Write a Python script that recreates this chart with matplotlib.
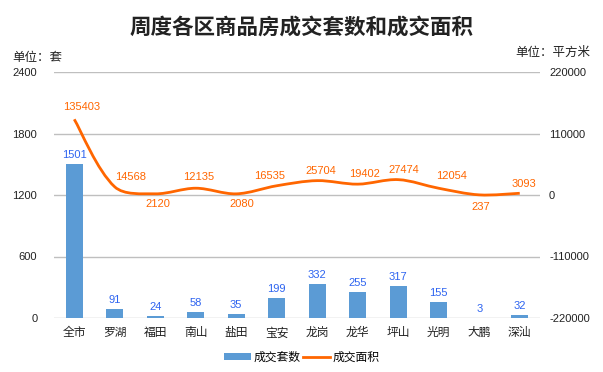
import matplotlib
matplotlib.use("Agg")
import matplotlib.pyplot as plt
from matplotlib.path import Path
from matplotlib.patches import PathPatch, Patch
from matplotlib.lines import Line2D
import numpy as np

plt.rcParams['font.family'] = ['Noto Sans CJK SC', 'DejaVu Sans']

categories = ["全市", "罗湖", "福田", "南山", "盐田", "宝安", "龙岗", "龙华", "坪山", "光明", "大鹏", "深汕"]
units = [1501, 91, 24, 58, 35, 199, 332, 255, 317, 155, 3, 32]
area = [135403, 14568, 2120, 12135, 2080, 16535, 25704, 19402, 27474, 12054, 237, 3093]
left_ticks = [0, 600, 1200, 1800, 2400]
right_ticks = [-220000, -110000, 0, 110000, 220000]

# label offsets (pixels) for line labels: (dx, dy); dy<0 means below the point
area_label_offsets = [(7, 7), (16, 5), (3, -5), (3, 6), (6, -5), (-7, 5),
                      (4, 5), (7, 5), (6, 5), (13, 7), (2, -7), (4, 4)]

bar_color = "#5B9BD5"
line_color = "#FF6600"
bar_label_color = "#2E64F0"
num_font = "Liberation Sans"

W, H = 603, 372
fig = plt.figure(figsize=(W/100, H/100), dpi=100)
ax_l, ax_r, ax_t, ax_b = 54, 540, 72, 318
ax = fig.add_axes([ax_l/W, 1-ax_b/H, (ax_r-ax_l)/W, (ax_b-ax_t)/H])
x = np.arange(len(categories))
ax.bar(x, units, width=0.42, color=bar_color, zorder=2)
ax.set_xlim(-0.5, len(categories)-0.5)
ax.set_ylim(0, 2400)
ax.set_yticks(left_ticks)
ax.set_yticklabels([str(t) for t in left_ticks], fontsize=8, color="#222222", family=num_font)
ax.set_xticks(x)
ax.set_xticklabels(categories, fontsize=8.5, color="#222222")
ax.tick_params(axis='y', length=0, pad=12)
ax.tick_params(axis='x', length=0, pad=6)
ax.grid(axis='y', color="#BFBFBF", linewidth=1, zorder=0)
for s in ax.spines.values():
    s.set_visible(False)
for xi, v in zip(x, units):
    ax.annotate(str(v), (xi, v), xytext=(0, 4), textcoords='offset pixels',
                ha='center', va='bottom', fontsize=8, color=bar_label_color, family=num_font)

ax2 = ax.twinx()
ax2.set_ylim(-220000, 220000)
ax2.set_yticks(right_ticks)
ax2.set_yticklabels([str(t) for t in right_ticks], fontsize=8, color="#222222", family=num_font)
ax2.tick_params(axis='y', length=0, pad=6.5)
for s in ax2.spines.values():
    s.set_visible(False)

# smoothed line (Bezier through the data points, weighted by segment length in pixel space)
sx = (ax_r - ax_l) / len(categories)
sy = (ax_b - ax_t) / 440000.0
xs = list(x)
ys = list(area)
n = len(xs)
P = [np.array([xs[i]*sx, ys[i]*sy]) for i in range(n)]
def seglen(i, j):
    return float(np.hypot(*(P[j]-P[i])))
tang = []
for i in range(n):
    if i == 0:
        d = P[1]-P[0]
    elif i == n-1:
        d = P[n-1]-P[n-2]
    else:
        d = P[i+1]-P[i-1]
    tang.append(d)
verts = [(xs[0], ys[0])]
codes = [Path.MOVETO]
k = 1/3
for i in range(n-1):
    L = seglen(i, i+1)
    Lp = seglen(i-1, i) if i > 0 else L
    Ln = seglen(i+1, i+2) if i+2 < n else L
    if i == 0:
        c1 = P[i] + tang[i]*k*0.5
    else:
        c1 = P[i] + tang[i]*k*L/(Lp+L)
    if i+1 == n-1:
        c2 = P[i+1] - tang[i+1]*k*0.5
    else:
        c2 = P[i+1] - tang[i+1]*k*L/(L+Ln)
    verts += [(c1[0]/sx, c1[1]/sy), (c2[0]/sx, c2[1]/sy), (xs[i+1], ys[i+1])]
    codes += [Path.CURVE4]*3
patch = PathPatch(Path(verts, codes), facecolor='none', edgecolor=line_color, linewidth=2,
                  zorder=3, capstyle='butt', joinstyle='round')
ax2.add_patch(patch)
for xi, v, (dx, dy) in zip(x, area, area_label_offsets):
    ax2.annotate(str(v), (xi, v), xytext=(dx, dy), textcoords='offset pixels',
                 ha='center', va='bottom' if dy > 0 else 'top', fontsize=8, color=line_color,
                 family=num_font)

fig.text(0.5, 1-27/H, "周度各区商品房成交套数和成交面积", ha='center', va='center',
         fontsize=15.5, fontweight='bold', color="#222222")
fig.text(12/W, 1-57/H, "单位：套", ha='left', va='center', fontsize=9, color="#222222")
fig.text(590/W, 1-52/H, "单位：平方米", ha='right', va='center', fontsize=9, color="#222222")

handles = [Patch(facecolor=bar_color, label="成交套数"),
           Line2D([0], [0], color=line_color, linewidth=2, label="成交面积")]
fig.legend(handles=handles, loc='center', bbox_to_anchor=(0.5, 1-357/H), ncol=2,
           frameon=False, fontsize=8.5, handlelength=2.3, handleheight=0.6,
           handletextpad=0.2, columnspacing=0.2)

fig.savefig("out.png", dpi=100)
